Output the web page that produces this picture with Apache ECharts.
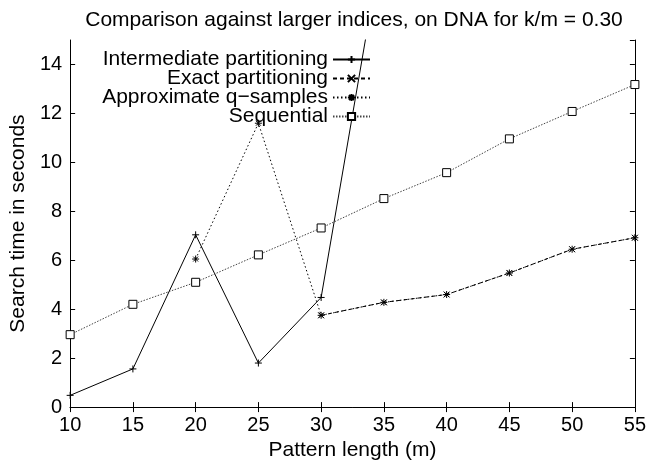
<!DOCTYPE html>
<html>
<head>
<meta charset="utf-8">
<script src="https://cdn.jsdelivr.net/npm/echarts@6/dist/echarts.min.js"></script>
<style>
  html, body { margin: 0; padding: 0; background: #fff; }
  #chart { width: 649px; height: 466px; }
</style>
</head>
<body>
<div id="chart"></div>
<script>
const patternLengths = [10, 15, 20, 25, 30, 35, 40, 45, 50, 55];

// values, null = no point
const intermediate = [0.48, 1.56, 7.04, 1.8, 4.48, 19.4, null, null, null, null];
const exact = [null, null, null, null, 3.75, 4.28, 4.6, 5.48, 6.45, 6.92];
const approxQ = [null, null, 6.05, 11.6, 3.75, 4.28, 4.6, 5.48, 6.45, 6.92];
const sequential = [2.96, 4.2, 5.1, 6.22, 7.32, 8.52, 9.58, 10.96, 12.08, 13.18];

const FONT = 'Liberation Sans, Arial, sans-serif';

const pairs = vals => patternLengths.map((x, i) => [x, vals[i]]).filter(p => p[1] != null);

const SYM_PLUS = 'path://M0,5L10,5M5,0L5,10';
const SYM_CROSS = 'path://M0,0L10,10M10,0L0,10';
const SYM_STAR = 'path://M0,5L10,5M5,0L5,10M1.5,1.5L8.5,8.5M8.5,1.5L1.5,8.5';

const axisCommon = {
  axisLine: { lineStyle: { color: '#000', width: 1 } },
  axisTick: { inside: true, length: 5, lineStyle: { color: '#000' } },
  splitLine: { show: false },
};

const chart = echarts.init(document.getElementById('chart'), null, { renderer: 'canvas' });

chart.setOption({
  backgroundColor: '#fff',
  animation: false,
  title: {
    text: 'Comparison against larger indices, on DNA for k/m = 0.30',
    left: 349, top: 5, textAlign: 'center',
    textStyle: { fontFamily: FONT, fontSize: 21, fontWeight: 'normal', color: '#000' },
  },
  grid: { left: 63, right: 13, top: 40, bottom: 53 },
  legend: {
    orient: 'vertical', align: 'right',
    right: 278, top: 49, padding: 0,
    itemWidth: 37, itemHeight: 9, itemGap: -2,
    textStyle: { fontFamily: FONT, fontSize: 21, color: '#000' },
    data: ['Intermediate partitioning', 'Exact partitioning', 'Approximate q\u2212samples', 'Sequential'],
  },
  xAxis: [
    {
      ...axisCommon, type: 'value', min: 10, max: 55, interval: 5,
      name: 'Pattern length (m)', nameLocation: 'middle', nameGap: 32,
      nameTextStyle: { fontFamily: FONT, fontSize: 21, color: '#000' },
      axisLabel: { fontFamily: FONT, fontSize: 20, color: '#000', margin: 8 },
    },
    { ...axisCommon, type: 'value', position: 'top', min: 10, max: 55, interval: 5, axisLabel: { show: false } },
  ],
  yAxis: [
    {
      ...axisCommon, type: 'value', min: 0, max: 15, interval: 2,
      name: 'Search time in seconds', nameLocation: 'middle', nameGap: 40,
      nameTextStyle: { fontFamily: FONT, fontSize: 21, color: '#000' },
      axisLabel: { fontFamily: FONT, fontSize: 20, color: '#000', margin: 8, showMaxLabel: false },
    },
    { ...axisCommon, type: 'value', position: 'right', min: 0, max: 15, interval: 2, axisLabel: { show: false } },
  ],
  series: [
    {
      name: 'Intermediate partitioning', type: 'line', data: pairs(intermediate),
      symbol: SYM_PLUS, symbolSize: 7,
      itemStyle: { color: '#000', borderColor: '#000', borderWidth: 1 },
      lineStyle: { color: '#000', width: 1 },
    },
    {
      name: 'Exact partitioning', type: 'line', data: pairs(exact),
      symbol: SYM_CROSS, symbolSize: 6,
      itemStyle: { color: '#000', borderColor: '#000', borderWidth: 1 },
      lineStyle: { color: '#000', width: 1, type: [4, 3] },
    },
    {
      name: 'Approximate q\u2212samples', type: 'line', data: pairs(approxQ),
      symbol: SYM_STAR, symbolSize: 7,
      itemStyle: { color: '#000', borderColor: '#000', borderWidth: 1 },
      lineStyle: { color: '#000', width: 1, type: [1.5, 2.5] },
    },
    {
      name: 'Sequential', type: 'line', data: pairs(sequential),
      symbol: 'rect', symbolSize: 8,
      itemStyle: { color: '#fff', borderColor: '#000', borderWidth: 1 },
      lineStyle: { color: '#444', width: 1, type: [1.5, 1.5] },
    },
  ],
});
</script>
</body>
</html>
